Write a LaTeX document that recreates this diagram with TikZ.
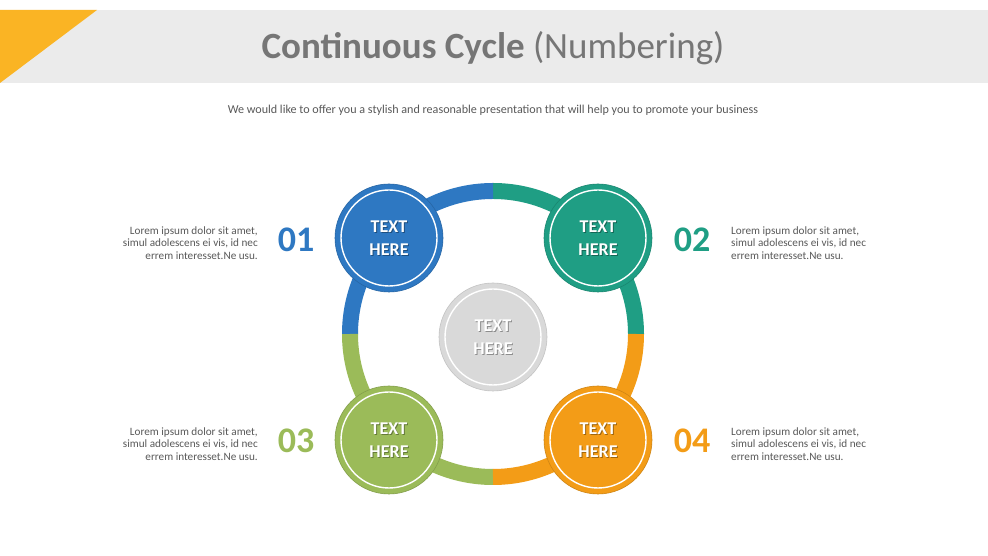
\documentclass[tikz,border=0pt]{standalone}
\usepackage{fontspec}
\setmainfont{Carlito}
\definecolor{cblue}{HTML}{2E78C2}
\definecolor{cteal}{HTML}{1F9E84}
\definecolor{cgreen}{HTML}{9BBB59}
\definecolor{corange}{HTML}{F39C17}
\definecolor{cgray}{HTML}{D9D9D9}
\definecolor{bargray}{HTML}{EBEBEB}
\definecolor{triorange}{HTML}{FAB424}
\definecolor{titlegray}{HTML}{767676}
\definecolor{bodygray}{HTML}{595959}
\tikzset{
  sat/.style={circle, minimum size=108pt, inner sep=0pt, draw=#1!85!black, line width=0.6pt, fill=#1},
  ringline/.style={circle, minimum size=96pt, inner sep=0pt, draw=white, line width=1.4pt},
  lbl/.style={font=\bfseries\fontsize{18}{23}\selectfont, text=white, align=center},
  lblshadow/.style={font=\bfseries\fontsize{18}{23}\selectfont, text=black, opacity=0.35, align=center},
  num/.style={font=\bfseries\fontsize{36}{36}\selectfont, text=#1},
  lorem/.style={font=\fontsize{11.2}{12.6}\selectfont, text=bodygray, inner sep=0pt},
  seg/.style={line width=16pt, draw=#1, line cap=butt}
}
\begin{document}
\begin{tikzpicture}[x=1pt,y=1pt]
\useasboundingbox (0,0) rectangle (988,556);
\fill[white] (0,0) rectangle (988,556);
% title bar
\fill[bargray] (0,473) rectangle (988,546);
\fill[triorange] (0,546) -- (97,546) -- (0,473) -- cycle;
\node[font=\fontsize{37}{37}\selectfont, text=titlegray] (title) at (493,508) {\textbf{Continuous Cycle} (Numbering)};
\node[font=\fontsize{12.1}{14}\selectfont, text=bodygray] (sub) at (493,446) {We would like to offer you a stylish and reasonable presentation that will help you to promote your business};
% ring
\coordinate (rc) at (493,222);
\draw[seg=cteal] (636,222) arc[start angle=0, end angle=90, radius=143];
\draw[seg=cblue] (493,365) arc[start angle=90, end angle=180, radius=143];
\draw[seg=cgreen] (350,222) arc[start angle=180, end angle=270, radius=143];
\draw[seg=corange] (493,79) arc[start angle=270, end angle=360, radius=143];
% center circle
\node[sat=cgray, draw=cgray!90!black] (c0) at (493,219) {};
\node[ringline] at (c0) {};
\node[lblshadow] at ([shift={(1,-1.2)}]c0) {TEXT\\HERE};
\node[lbl] at (c0) {TEXT\\HERE};
% satellites
\foreach \nm/\col/\px/\py in {c1/cblue/389/318, c2/cteal/598/318, c3/cgreen/389/116, c4/corange/598/116}{
  \node[sat=\col] (\nm) at (\px,\py) {};
  \node[ringline] at (\nm) {};
  \node[lblshadow] at ([shift={(1,-1.2)}]\nm) {TEXT\\HERE};
  \node[lbl] at (\nm) {TEXT\\HERE};
}
% numbers
\node[num=cblue] (n1) at (296,316) {01};
\node[num=cteal] (n2) at (692,316) {02};
\node[num=cgreen] (n3) at (296,115) {03};
\node[num=corange] (n4) at (692,115) {04};
% lorem texts
\node[lorem, anchor=east, align=right] (t1) at (258,313) {Lorem ipsum dolor sit amet,\\simul adolescens ei vis, id nec\\errem interesset.Ne usu.};
\node[lorem, anchor=west, align=left] (t2) at (731,313) {Lorem ipsum dolor sit amet,\\simul adolescens ei vis, id nec\\errem interesset.Ne usu.};
\node[lorem, anchor=east, align=right] (t3) at (258,112) {Lorem ipsum dolor sit amet,\\simul adolescens ei vis, id nec\\errem interesset.Ne usu.};
\node[lorem, anchor=west, align=left] (t4) at (731,112) {Lorem ipsum dolor sit amet,\\simul adolescens ei vis, id nec\\errem interesset.Ne usu.};
\end{tikzpicture}
\end{document}
